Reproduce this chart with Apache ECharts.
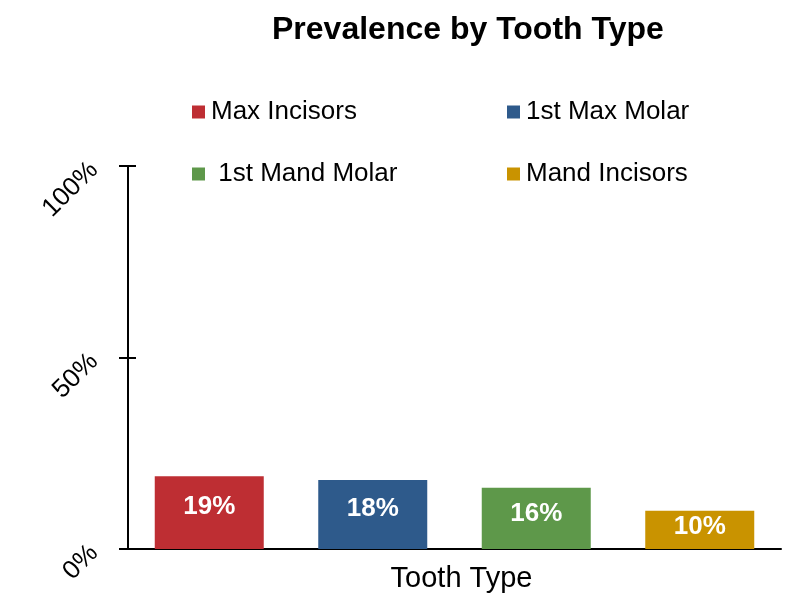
<!DOCTYPE html>
<html>
<head>
<meta charset="utf-8">
<script src="https://cdn.jsdelivr.net/npm/echarts@6/dist/echarts.min.js"></script>
<style>
  html, body { margin: 0; padding: 0; background: #fff; }
  #main { width: 789px; height: 596px; }
</style>
</head>
<body>
<div id="main"></div>
<script>
// data
var categories = ['Tooth Type']
var seriesNames = ['Max Incisors', '1st Max Molar', ' 1st Mand Molar', 'Mand Incisors']
var seriesValues = [19, 18, 16, 10]
var seriesColors = ['#be2e33', '#2e5a8b', '#5e984a', '#c99300']
var yTicks = [0, 50, 100]

var myChart = echarts.init(document.getElementById('main'))

var series = seriesNames.map(function (name, i) {
    return {
        name: name,
        type: 'bar',
        yAxisIndex: 0,
        data: [seriesValues[i]],
        barWidth: 109,
        barGap: '50%',
        itemStyle: { color: seriesColors[i] },
        label: {
            show: true,
            position: ['50%', '42%'],
            align: 'center',
            verticalAlign: 'middle',
            formatter: '{c}%',
            color: '#fff',
            fontWeight: 'bold',
            fontSize: 26,
            fontFamily: 'Liberation Sans'
        }
    }
})

var yBase = {
    type: 'value',
    position: 'left',
    min: yTicks[0],
    max: yTicks[yTicks.length - 1],
    interval: yTicks[1] - yTicks[0],
    splitLine: { show: false }
}

var legendText = { fontSize: 26, color: '#000', fontFamily: 'Liberation Sans', padding: [0, 0, 0, 1] }

myChart.setOption({
    animation: false,
    textStyle: { fontFamily: 'Liberation Sans' },
    title: {
        text: 'Prevalence by Tooth Type',
        left: 272,
        top: 14,
        padding: 0,
        textStyle: { fontSize: 32, fontWeight: 'bold', color: '#000', fontFamily: 'Liberation Sans' }
    },
    legend: [{
        data: [seriesNames[0], seriesNames[2]],
        orient: 'vertical',
        left: 192,
        top: 99,
        padding: 0,
        itemGap: 36,
        itemWidth: 13,
        itemHeight: 13,
        icon: 'rect',
        textStyle: legendText
    }, {
        data: [seriesNames[1], seriesNames[3]],
        orient: 'vertical',
        left: 507,
        top: 99,
        padding: 0,
        itemGap: 36,
        itemWidth: 13,
        itemHeight: 13,
        icon: 'rect',
        textStyle: legendText
    }],
    grid: { left: 128, right: 8, top: 166, bottom: 47 },
    xAxis: {
        type: 'category',
        data: categories,
        axisLine: { lineStyle: { color: '#000', width: 2 } },
        axisTick: { show: false },
        axisLabel: {
            fontSize: 29,
            color: '#000',
            margin: 15,
            padding: [0, 0, 0, 14],
            fontFamily: 'Liberation Sans'
        }
    },
    yAxis: [
        Object.assign({}, yBase, {
            axisLine: { show: true, lineStyle: { color: '#000', width: 2 } },
            axisTick: { show: true, length: 9, lineStyle: { color: '#000', width: 2 } },
            axisLabel: {
                formatter: '{value}%',
                rotate: 45,
                margin: 34,
                fontSize: 26,
                color: '#000',
                fontFamily: 'Liberation Sans'
            }
        }),
        Object.assign({}, yBase, {
            axisLine: { show: false },
            axisTick: { show: true, inside: true, length: 8, lineStyle: { color: '#000', width: 2 } },
            axisLabel: { show: false }
        })
    ],
    series: series
})
</script>
</body>
</html>
